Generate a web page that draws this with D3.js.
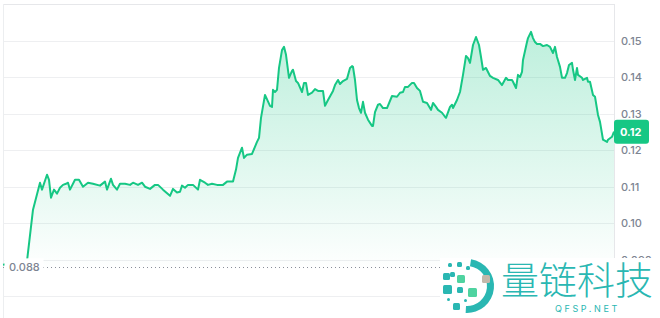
<!DOCTYPE html>
<html><head><meta charset="utf-8">
<script src="https://cdn.jsdelivr.net/npm/d3@7"></script>
<style>
html,body{margin:0;padding:0;background:#fff;overflow:hidden}
svg{display:block;font-family:Inter,"Noto Sans",sans-serif}
</style></head>
<body><svg id="chart" width="660" height="318"></svg>
<script>
// sample time (minutes from start of window)
const times = [
 0,24,30,37,39,44,46,48,51,54,
 57,60,63,65,67,72,76,80,85,90,
 97,102,104,108,110,114,117,122,127,130,
 135,139,142,147,152,155,160,167,170,174,
 177,179,182,185,190,195,197,202,205,209,
 214,220,224,230,233,235,239,241,244,249,
 254,256,258,262,267,269,270,272,274,276,
 279,281,283,286,289,290,293,295,299,301,
 303,305,309,312,315,320,322,325,330,332,
 335,337,340,344,347,349,350,352,354,356,
 358,360,362,365,369,370,372,375,377,380,
 384,389,394,397,400,402,405,409,411,414,
 417,420,424,428,430,433,435,439,442,443,
 447,449,450,454,457,460,463,465,467,470,
 473,476,478,480,483,485,487,490,495,499,
 503,505,509,510,513,515,517,519,520,524,
 525,528,530,532,534,537,540,544,547,550,
 552,554,557,559,562,564,566,569,570,572,
 574,575,579,580,584,585,587,590,592,595,
 597,600,604,605,609,611];
const prices = [
 .0886,.0896,.1037,.1111,.1092,.1133,.1119,.1070,.1092,.1081,
 .1097,.1105,.1108,.1111,.1092,.1119,.1119,.1100,.1111,.1108,
 .1103,.1114,.1092,.1122,.1105,.1092,.1108,.1108,.1105,.1111,
 .1105,.1111,.1100,.1094,.1105,.1105,.1092,.1075,.1094,.1084,
 .1086,.1103,.1097,.1105,.1105,.1092,.1119,.1111,.1105,.1108,
 .1105,.1105,.1114,.1114,.1147,.1179,.1207,.1179,.1188,.1190,
 .1223,.1234,.1289,.1352,.1322,.1319,.1366,.1360,.1366,.1426,
 .1475,.1484,.1462,.1399,.1418,.1421,.1390,.1385,.1360,.1385,
 .1385,.1352,.1358,.1368,.1363,.1363,.1322,.1338,.1363,.1379,
 .1393,.1382,.1390,.1396,.1426,.1431,.1429,.1393,.1338,.1316,
 .1303,.1333,.1303,.1284,.1267,.1267,.1305,.1325,.1327,.1316,
 .1316,.1349,.1347,.1358,.1360,.1374,.1374,.1385,.1385,.1371,
 .1363,.1333,.1330,.1311,.1330,.1319,.1311,.1303,.1292,.1289,
 .1319,.1325,.1316,.1338,.1360,.1407,.1459,.1453,.1440,.1489,
 .1511,.1489,.1456,.1421,.1426,.1415,.1404,.1399,.1393,.1379,
 .1399,.1393,.1393,.1388,.1371,.1407,.1401,.1415,.1448,.1497,
 .1508,.1525,.1508,.1497,.1492,.1492,.1486,.1489,.1484,.1467,
 .1484,.1456,.1429,.1399,.1399,.1412,.1434,.1440,.1421,.1393,
 .1426,.1407,.1399,.1393,.1399,.1388,.1388,.1352,.1347,.1297,
 .1278,.1229,.1223,.1229,.1237,.1251];
const gridValues = [0.15,0.14,0.13,0.12,0.11,0.10,0.09,0.08];
const tickValues = [0.15,0.14,0.13,0.12,0.11,0.10,0.09];
const tickLabels = ["0.15","0.14","0.13","0.12","0.11","0.10","0.090"];
const openPrice = 0.088, openLabel = "0.088";
const lastLabel = "0.12";

const svg = d3.select("#chart");
const W = 660, H = 318;
const plotLeft = 3, plotRight = 614, plotTop = 4;
const x = d3.scaleLinear().domain([0, 611]).range([plotLeft, plotRight]);
const y = d3.scaleLinear().domain([0.08, 0.15]).range([296, 41]);
const data = times.map((t,i)=>({t, v: prices[i]}));
const green = "#16c784";

// gradient
const defs = svg.append("defs");
const g = defs.append("linearGradient").attr("id","fillGrad")
  .attr("gradientUnits","userSpaceOnUse").attr("x1",0).attr("x2",0)
  .attr("y1", y(0.152)).attr("y2", y(0.087));
g.append("stop").attr("offset","0").attr("stop-color",green).attr("stop-opacity",0.28);
g.append("stop").attr("offset","0.6").attr("stop-color",green).attr("stop-opacity",0.12);
g.append("stop").attr("offset","1").attr("stop-color",green).attr("stop-opacity",0.0);

// grid
svg.append("g").selectAll("line").data(gridValues).join("line")
  .attr("x1", plotLeft).attr("x2", plotRight)
  .attr("y1", d=>Math.round(y(d))+0.5).attr("y2", d=>Math.round(y(d))+0.5)
  .attr("stroke","#eeeff1").attr("stroke-width",1);
// frame
svg.append("line").attr("x1",plotLeft).attr("x2",plotRight).attr("y1",plotTop+0.5).attr("y2",plotTop+0.5).attr("stroke","#e6e7ea");
svg.append("line").attr("x1",plotRight+0.5).attr("x2",plotRight+0.5).attr("y1",plotTop).attr("y2",H).attr("stroke","#e6e7ea");
svg.append("line").attr("x1",plotLeft+0.5).attr("x2",plotLeft+0.5).attr("y1",plotTop).attr("y2",H).attr("stroke","#eceef0");

// area + line
const area = d3.area().x(d=>x(d.t)).y0(y(0.087)).y1(d=>y(d.v));
svg.append("path").datum(data).attr("d",area).attr("fill","url(#fillGrad)");
const line = d3.line().x(d=>x(d.t)).y(d=>y(d.v));
svg.append("path").datum(data).attr("d",line).attr("fill","none")
  .attr("stroke",green).attr("stroke-width",2).attr("stroke-linejoin","round");

// open price dotted line
svg.append("line").attr("x1",plotLeft).attr("x2",plotRight)
  .attr("y1",Math.round(y(openPrice))+0.5).attr("y2",Math.round(y(openPrice))+0.5)
  .attr("stroke","#8a8f99").attr("stroke-width",1).attr("stroke-dasharray","1,3");
svg.append("rect").attr("x",plotLeft+1.5).attr("y",y(openPrice)-8.5).attr("width",39).attr("height",16).attr("fill","#fff");
svg.append("text").attr("x",9).attr("y",y(openPrice)).attr("dy","0.35em")
  .attr("font-size",11).attr("font-weight",500).attr("fill","#7d8492").text(openLabel);

// right axis
const axis = d3.axisRight(y).tickValues(tickValues).tickSize(0).tickPadding(7)
  .tickFormat((d,i)=>tickLabels[i]);
const ax = svg.append("g").attr("transform",`translate(${plotRight},0)`).call(axis);
ax.select(".domain").remove();
ax.selectAll("text").attr("font-size",11).attr("font-weight",500).attr("fill","#7d8492")
  .attr("font-family","Inter, 'Noto Sans', sans-serif");

// last price tag
const lastV = prices[prices.length-1];
const ly = y(lastV);
svg.append("rect").attr("x",plotRight).attr("y",ly-12).attr("width",35).attr("height",24)
  .attr("rx",3).attr("fill",green);
svg.append("text").attr("x",plotRight+6).attr("y",ly).attr("dy","0.36em")
  .attr("font-size",11).attr("font-weight",700).attr("fill","#fff").text(lastLabel);

// watermark
const wm = svg.append("g");
wm.append("rect").attr("x",440).attr("y",258).attr("width",220).attr("height",60).attr("fill","#fff");
const arc = d3.arc().innerRadius(20).outerRadius(27).startAngle(0.15).endAngle(Math.PI+0.05);
wm.append("path").attr("d",arc()).attr("transform","translate(467,286)").attr("fill","#2ab7b2");
const sq = [
 [448,263,4,"#2ab7b2"],[457,262,5,"#2ab7b2"],[443,273,7,"#2ab7b2"],[450,272,5,"#2ab7b2"],
 [457,275,8,"#4fd3a0"],[482,275,8,"#c4b8aa"],[443,285,9,"#2ab7b2"],[457,287,6,"#2ab7b2"],
 [468,288,9,"#4fd3a0"],[453,303,7,"#2ab7b2"],[447,298,3,"#2ab7b2"],[464,299,3,"#2ab7b2"],
 [466,266,4,"#2ab7b2"]
];
wm.selectAll("rect.sq").data(sq).join("rect").attr("class","sq")
  .attr("x",d=>d[0]).attr("y",d=>d[1]).attr("width",d=>d[2]).attr("height",d=>d[2])
  .attr("rx",1.5).attr("fill",d=>d[3]);
wm.append("text").attr("x",501).attr("y",294).attr("font-size",38)
  .attr("font-family","'Noto Sans CJK SC', sans-serif").attr("font-weight",300)
  .attr("fill","#2ab7b2").text("量链科技");
wm.append("text").attr("x",555).attr("y",312).attr("font-size",9)
  .attr("letter-spacing",2.6).attr("font-family","Inter, sans-serif")
  .attr("fill","#2ab7b2").text("QFSP.NET");
</script></body></html>
